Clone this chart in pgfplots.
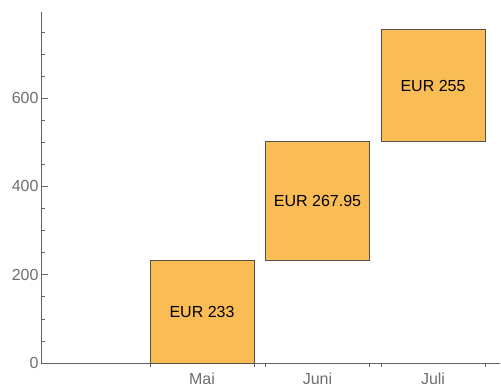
\documentclass[border=0pt]{standalone}
\usepackage{pgfplots}
\pgfplotsset{compat=1.18}
\usepackage{fontspec}
\setmainfont{Liberation Sans}
\definecolor{barfill}{RGB}{250,189,86}
\definecolor{baredge}{RGB}{85,80,75}
\definecolor{axgray}{RGB}{100,100,100}
\definecolor{lblgray}{RGB}{110,110,110}
\begin{document}
\begin{tikzpicture}
\begin{axis}[
  at={(0,0)}, anchor=south west,
  scale only axis,
  width=459bp, height=351bp,
  xmin=-0.394, xmax=3.58,
  ymin=0, ymax=795,
  axis lines=left,
  axis line style={-, draw=axgray, line width=0.8pt},
  every tick/.style={draw=axgray, line width=0.6pt},
  xtick={1,2,3},
  xticklabels={Mai,Juni,Juli},
  major x tick style={draw=none},
  minor xtick={0.55,1.45,1.55,2.45,2.55,3.45},
  x tick label style={yshift=1bp},
  ytick={0,200,400,600},
  minor ytick={50,100,150,250,300,350,450,500,550,650,700,750},
  ytick align=inside,
  xtick align=outside,
  major tick length=7bp,
  minor tick length=4bp,
  tick label style={font=\fontsize{16bp}{19bp}\selectfont, text=lblgray},
  y tick label style={xshift=1bp},
  /pgf/number format/assume math mode=true,
  clip=false,
]
\addplot[fill=barfill, draw=baredge, line width=0.8pt] coordinates {(0.55,0) (1.45,0) (1.45,233) (0.55,233)} --cycle;
\addplot[fill=barfill, draw=baredge, line width=0.8pt] coordinates {(1.55,233) (2.45,233) (2.45,500.95) (1.55,500.95)} --cycle;
\addplot[fill=barfill, draw=baredge, line width=0.8pt] coordinates {(2.55,500.95) (3.45,500.95) (3.45,755.95) (2.55,755.95)} --cycle;
\addplot[only marks, mark=none, nodes near coords, point meta=explicit symbolic,
  nodes near coords align=center,
  every node near coord/.append style={font=\fontsize{16bp}{19bp}\selectfont, text=black, anchor=center}]
  coordinates {(1,116.5) [EUR 233] (2,366.975) [EUR 267.95] (3,628.45) [EUR 255]};
\end{axis}
\pgfresetboundingbox
\path[use as bounding box] (-41bp,-27bp) rectangle (460bp,363bp);
\end{tikzpicture}
\end{document}
